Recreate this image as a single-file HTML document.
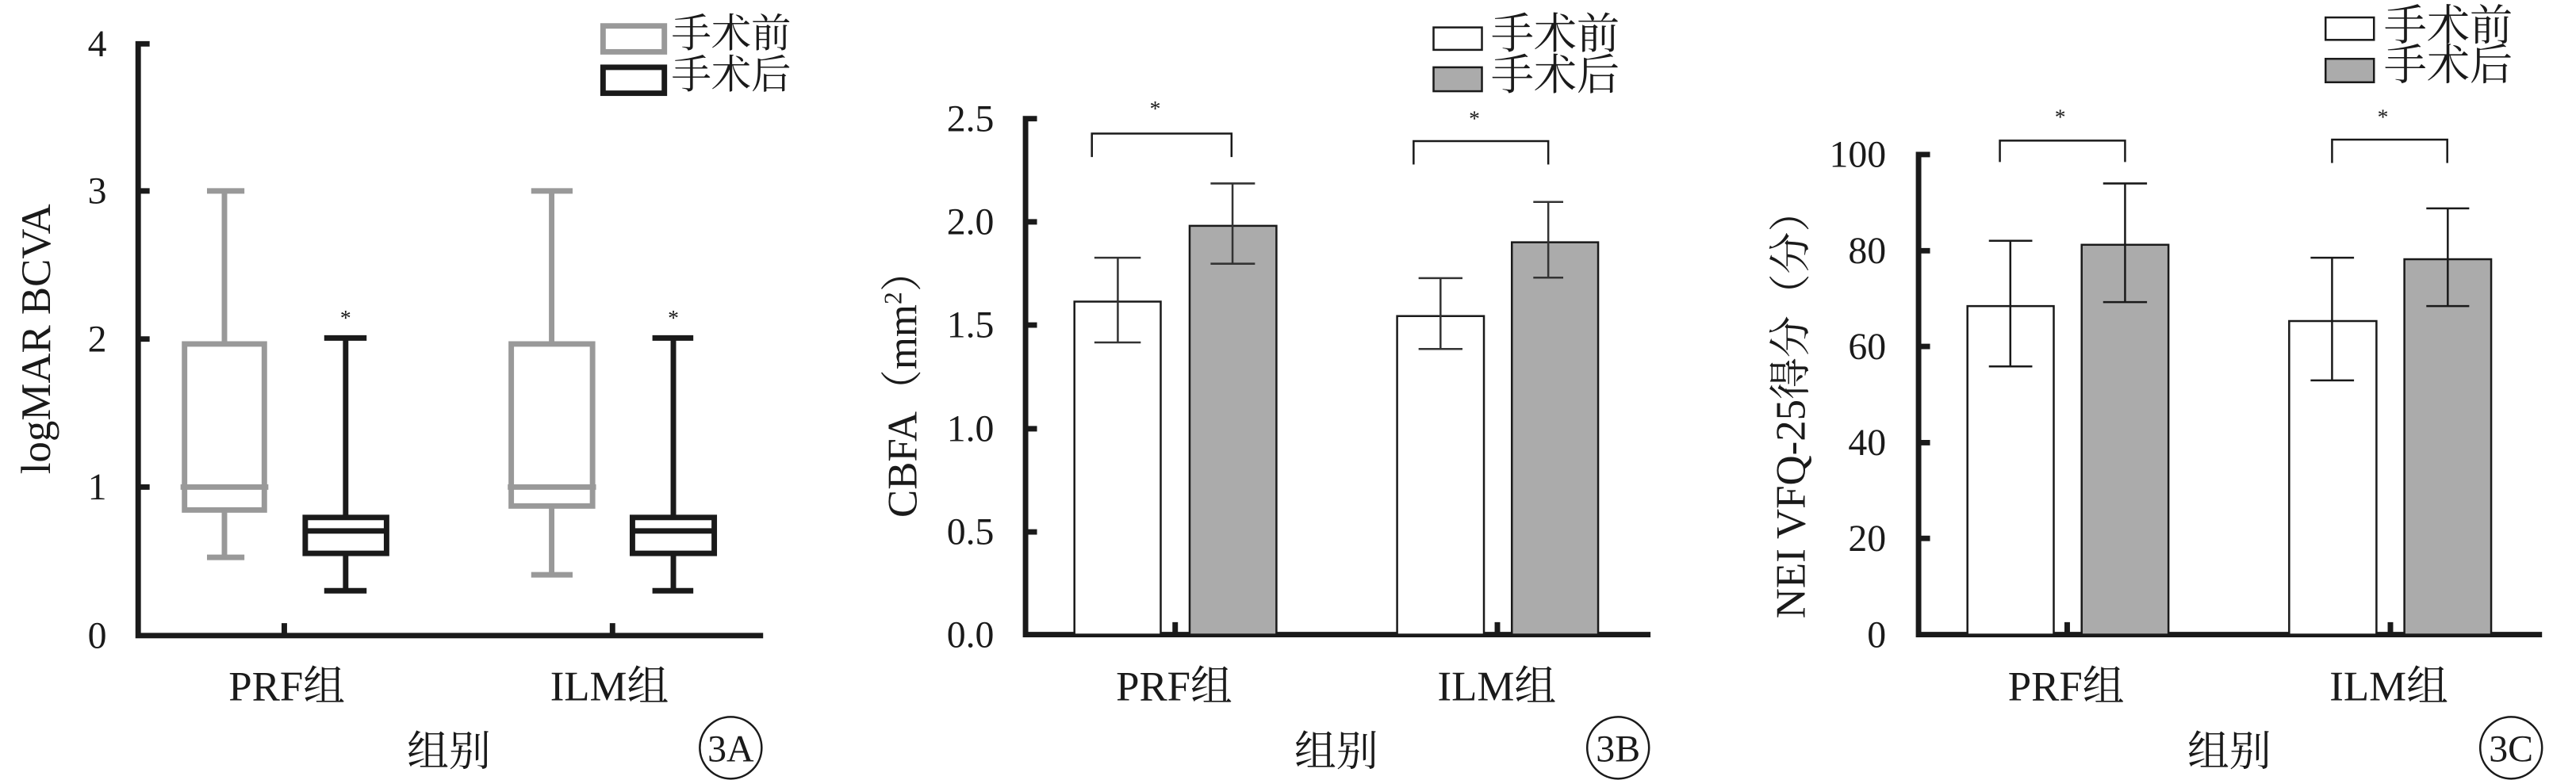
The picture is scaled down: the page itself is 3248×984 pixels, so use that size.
<!DOCTYPE html>
<html><head><meta charset="utf-8"><style>
html,body{margin:0;padding:0;background:#fff}
svg{display:block}
text{font-family:"Liberation Serif","Noto Serif CJK SC","Noto Sans CJK SC",serif;fill:#1a1a1a}
</style></head><body>
<svg width="3248" height="984" viewBox="0 0 3248 984" xmlns="http://www.w3.org/2000/svg">
<rect width="3248" height="984" fill="#fff"/>

<!-- Panel A -->
<g transform="scale(0.6289)">
  <g stroke="#1a1a1a" stroke-width="11" fill="none">
    <path d="M300 88 H277 V1275 H1530"/>
    <path d="M277 383 H300 M277 680 H300 M277 977 H300 M570 1250 V1275 M1228 1250 V1275"/>
  </g>
  <g font-size="76" text-anchor="middle">
    <text x="195" y="113">4</text><text x="195" y="408">3</text><text x="195" y="705">2</text><text x="195" y="1002">1</text><text x="195" y="1300">0</text>
  </g>
  <text transform="translate(100,680) rotate(-90)" font-size="84" text-anchor="middle">logMAR BCVA</text>
  <g stroke="#999" stroke-width="11" fill="none">
    <rect x="370" y="690" width="160" height="333"/>
    <path d="M362 977 H538 M450 383 V690 M450 1023 V1118 M415 383 H490 M415 1118 H490"/>
    <rect x="1025" y="690" width="163" height="325"/>
    <path d="M1018 977 H1195 M1106 383 V690 M1106 1015 V1153 M1065 383 H1148 M1065 1153 H1148"/>
    <rect x="1209" y="52" width="123" height="52"/>
  </g>
  <g stroke="#1a1a1a" stroke-width="11" fill="none">
    <rect x="612" y="1038" width="163" height="72"/>
    <path d="M607 1065 H780 M693 678 V1038 M693 1110 V1185 M650 678 H735 M650 1185 H735"/>
    <rect x="1268" y="1038" width="164" height="72"/>
    <path d="M1263 1065 H1437 M1350 678 V1038 M1350 1110 V1185 M1308 678 H1390 M1308 1185 H1390"/>
    <rect x="1209" y="135" width="123" height="52"/>
  </g>
  <g font-size="44" text-anchor="middle"><text x="693" y="652">*</text><text x="1350" y="652">*</text></g>
  <g font-size="80"><text x="1346" y="95">手术前</text><text x="1346" y="177">手术后</text></g>
  <g font-size="84" text-anchor="middle">
    <text x="575" y="1405">PRF组</text><text x="1222" y="1405">ILM组</text>
    <text x="900" y="1535">组别</text>
  </g>
  <circle cx="1465" cy="1500" r="62" fill="none" stroke="#1a1a1a" stroke-width="4"/>
  <text x="1465" y="1527" font-size="76" text-anchor="middle">3A</text>
</g>

<!-- Panel B -->
<g transform="translate(1100,0) scale(0.6289)">
  <g stroke="#1a1a1a" stroke-width="11" fill="none">
    <path d="M330 238 H307 V1273 H1560"/>
    <path d="M307 445 H330 M307 652 H330 M307 860 H330 M307 1067 H330 M607 1248 V1273 M1253 1248 V1273"/>
  </g>
  <g font-size="76" text-anchor="end">
    <text x="244" y="263">2.5</text><text x="244" y="470">2.0</text><text x="244" y="677">1.5</text><text x="244" y="885">1.0</text><text x="244" y="1092">0.5</text><text x="244" y="1298">0.0</text>
  </g>
  <text transform="translate(88,770) rotate(-90)" font-size="84" text-anchor="middle">CBFA（mm<tspan font-size="50" dy="-30">2</tspan><tspan dy="30">）</tspan></text>
  <g stroke="#1a1a1a" stroke-width="4">
    <rect x="405" y="605" width="173" height="668" fill="#fff"/>
    <rect x="636" y="453" width="174" height="820" fill="#ababab"/>
    <rect x="1052" y="634" width="174" height="639" fill="#fff"/>
    <rect x="1282" y="486" width="173" height="787" fill="#ababab"/>
    <rect x="1125" y="55" width="97" height="45" fill="#fff"/>
    <rect x="1125" y="135" width="97" height="48" fill="#ababab"/>
  </g>
  <g stroke="#333" stroke-width="4" fill="none">
    <path d="M492 517 V687 M445 517 H538 M445 687 H538"/>
    <path d="M722 368 V529 M678 368 H767 M678 529 H767"/>
    <path d="M1139 558 V700 M1095 558 H1183 M1095 700 H1183"/>
    <path d="M1355 405 V557 M1325 405 H1385 M1325 557 H1385"/>
  </g>
  <g stroke="#1a1a1a" stroke-width="4" fill="none">
    <path d="M440 315 V268 H720 V315"/>
    <path d="M1085 330 V283 H1355 V330"/>
  </g>
  <g font-size="44" text-anchor="middle"><text x="567" y="232">*</text><text x="1207" y="252">*</text></g>
  <g font-size="86"><text x="1240" y="97">手术前</text><text x="1240" y="180">手术后</text></g>
  <g font-size="84" text-anchor="middle">
    <text x="605" y="1405">PRF组</text><text x="1252" y="1405">ILM组</text>
    <text x="930" y="1535">组别</text>
  </g>
  <circle cx="1495" cy="1500" r="62" fill="none" stroke="#1a1a1a" stroke-width="4"/>
  <text x="1495" y="1527" font-size="76" text-anchor="middle">3B</text>
</g>

<!-- Panel C -->
<g transform="translate(2248,0) scale(0.6289)">
  <g stroke="#1a1a1a" stroke-width="11" fill="none">
    <path d="M295 310 H272 V1273 H1522"/>
    <path d="M272 503 H295 M272 695 H295 M272 888 H295 M272 1080 H295 M570 1248 V1273 M1218 1248 V1273"/>
  </g>
  <g font-size="76" text-anchor="end">
    <text x="207" y="335">100</text><text x="207" y="528">80</text><text x="207" y="720">60</text><text x="207" y="913">40</text><text x="207" y="1105">20</text><text x="207" y="1298">0</text>
  </g>
  <text transform="translate(44,811) rotate(-90)" font-size="84" text-anchor="middle">NEI VFQ-25得分（分）</text>
  <g stroke="#1a1a1a" stroke-width="4">
    <rect x="370" y="614" width="173" height="659" fill="#fff"/>
    <rect x="599" y="491" width="174" height="782" fill="#ababab"/>
    <rect x="1015" y="644" width="175" height="629" fill="#fff"/>
    <rect x="1246" y="520" width="174" height="753" fill="#ababab"/>
    <rect x="1088" y="35" width="97" height="45" fill="#fff"/>
    <rect x="1088" y="118" width="97" height="47" fill="#ababab"/>
  </g>
  <g stroke="#1a1a1a" stroke-width="4" fill="none">
    <path d="M456 483 V735 M413 483 H500 M413 735 H500"/>
    <path d="M686 368 V606 M642 368 H730 M642 606 H730"/>
    <path d="M1101 517 V763 M1058 517 H1145 M1058 763 H1145"/>
    <path d="M1333 418 V614 M1290 418 H1376 M1290 614 H1376"/>
    <path d="M435 325 V282 H686 V325"/>
    <path d="M1101 327 V280 H1332 V327"/>
  </g>
  <g font-size="44" text-anchor="middle"><text x="556" y="249">*</text><text x="1203" y="249">*</text></g>
  <g font-size="86"><text x="1205" y="80">手术前</text><text x="1205" y="160">手术后</text></g>
  <g font-size="84" text-anchor="middle">
    <text x="568" y="1405">PRF组</text><text x="1215" y="1405">ILM组</text>
    <text x="895" y="1535">组别</text>
  </g>
  <circle cx="1460" cy="1500" r="62" fill="none" stroke="#1a1a1a" stroke-width="4"/>
  <text x="1460" y="1527" font-size="76" text-anchor="middle">3C</text>
</g>
</svg>
</body></html>
